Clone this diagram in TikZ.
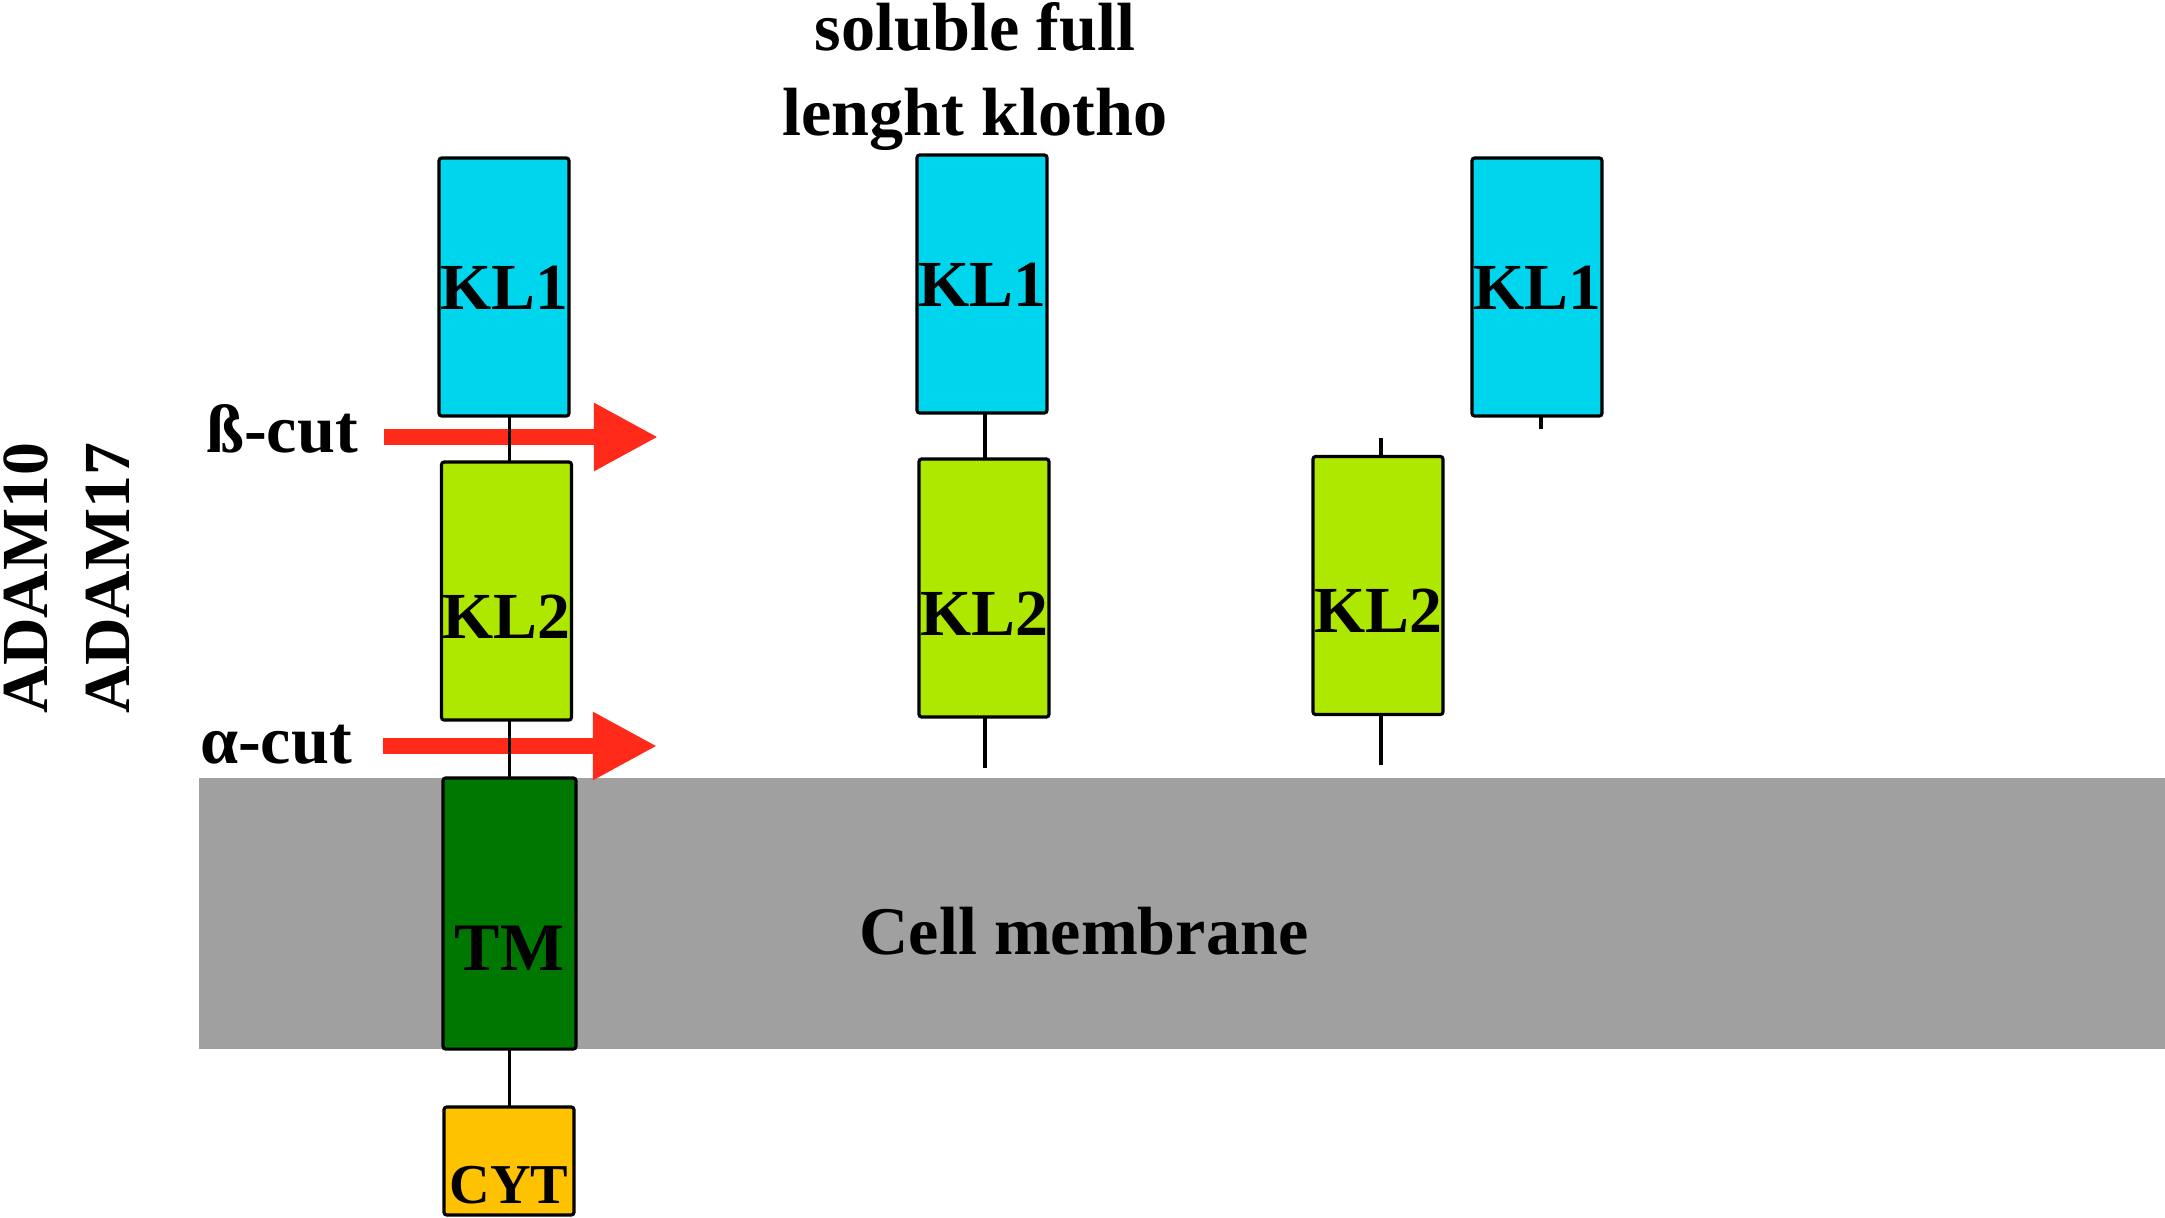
\documentclass[tikz,border=0pt]{standalone}
\usepackage{fontspec}
\setmainfont{Liberation Serif}
\usetikzlibrary{arrows.meta}
\definecolor{klone}{RGB}{0,213,238}
\definecolor{kltwo}{RGB}{174,232,0}
\definecolor{tmgreen}{RGB}{0,119,0}
\definecolor{cytor}{RGB}{255,194,0}
\definecolor{memgray}{RGB}{160,160,160}
\definecolor{cutred}{RGB}{255,42,26}
\begin{document}
\begin{tikzpicture}[x=0.01cm,y=-0.01cm,
  box/.style={draw=black,line width=0.9pt,rounded corners=0.8pt,inner sep=0pt,outer sep=0pt},
  kaone/.style={box,fill=klone,minimum width=1.30cm,minimum height=2.58cm},
  katwo/.style={box,fill=kltwo,minimum width=1.30cm,minimum height=2.58cm},
  lab/.style={font=\bfseries\fontsize{18.7}{22}\selectfont,inner sep=0pt,anchor=base},
  txt/.style={font=\bfseries\fontsize{19.4}{24.2}\selectfont,inner sep=0pt},
  link/.style={draw=black,line width=0.9pt},
  cut/.style={draw=cutred,line width=0.15cm,-{Triangle[length=0.64cm,width=0.64cm]}}
]
\useasboundingbox (0,0) rectangle (2165,1218);
% membrane
\node[fill=memgray,minimum width=19.66cm,minimum height=2.71cm,inner sep=0pt,outer sep=0pt,anchor=north west] (mem) at (199,778) {};
\node[txt,anchor=base] (memlab) at (1084,954) {Cell membrane};
% left column
\node[kaone] (kl1a) at (504,287) {};
\node[katwo] (kl2a) at (506.5,591) {};
\node[box,fill=tmgreen,minimum width=1.33cm,minimum height=2.71cm] (tm) at (509.5,913.5) {};
\node[box,fill=cytor,minimum width=1.30cm,minimum height=1.08cm] (cyt) at (509,1161) {};
\node[lab] (t1a) at ([yshift=-0.22cm]kl1a.center) {KL1};
\node[lab] (t2a) at ([yshift=-0.47cm]kl2a.center) {KL2};
\node[lab,font=\bfseries\fontsize{19.3}{22}\selectfont] (ttm) at ([yshift=-0.57cm]tm.center) {TM};
\node[lab,font=\bfseries\fontsize{16}{19}\selectfont] (tcyt) at ([yshift=-0.42cm]cyt.center) {CYT};
% middle column
\node[kaone] (kl1b) at (982,284) {};
\node[katwo] (kl2b) at (984,588) {};
\coordinate (stubb) at (985,768);
\node[lab] (t1b) at ([yshift=-0.22cm]kl1b.center) {KL1};
\node[lab] (t2b) at ([yshift=-0.47cm]kl2b.center) {KL2};
% right columns
\node[katwo] (kl2c) at (1378,585.5) {};
\coordinate (stubc1) at (1381,438);
\coordinate (stubc2) at (1381,765);
\node[lab] (t2c) at ([yshift=-0.47cm]kl2c.center) {KL2};
\node[kaone] (kl1d) at (1537,287) {};
\coordinate (stubd) at (1541,429);
\node[lab] (t1d) at ([yshift=-0.22cm]kl1d.center) {KL1};
% cut arrows
\coordinate (bs) at (384,437);
\coordinate (be) at (658,437);
\coordinate (as) at (383,746);
\coordinate (ae) at (657,746);
\draw[cut] (bs) -- (be);
\draw[cut] (as) -- (ae);
\node[txt,anchor=base] (blab) at (282,452) {ß-cut};
\node[txt,anchor=base] (alab) at (276,763) {α-cut};
% connectors
\draw[link] (kl1a.south -| tm.center) -- (kl2a.north -| tm.center);
\draw[link] (kl2a.south -| tm.center) -- (tm.north);
\draw[link] (tm.south) -- (cyt.north -| tm.center);
\draw[link] (kl1b.south -| stubb) -- (kl2b.north -| stubb);
\draw[link] (kl2b.south -| stubb) -- (stubb);
\draw[link] (stubc1) -- (kl2c.north -| stubc1);
\draw[link] (kl2c.south -| stubc2) -- (stubc2);
\draw[link] (kl1d.south -| stubd) -- (stubd);
% titles
\node[txt,anchor=north,align=center] (title) at (975,2) {soluble full\\lenght klotho};
\node[txt,rotate=90,align=center,font=\bfseries\fontsize{18.7}{23.3}\selectfont] (adam) at (67,578) {ADAM10\\ADAM17};
\end{tikzpicture}
\end{document}
